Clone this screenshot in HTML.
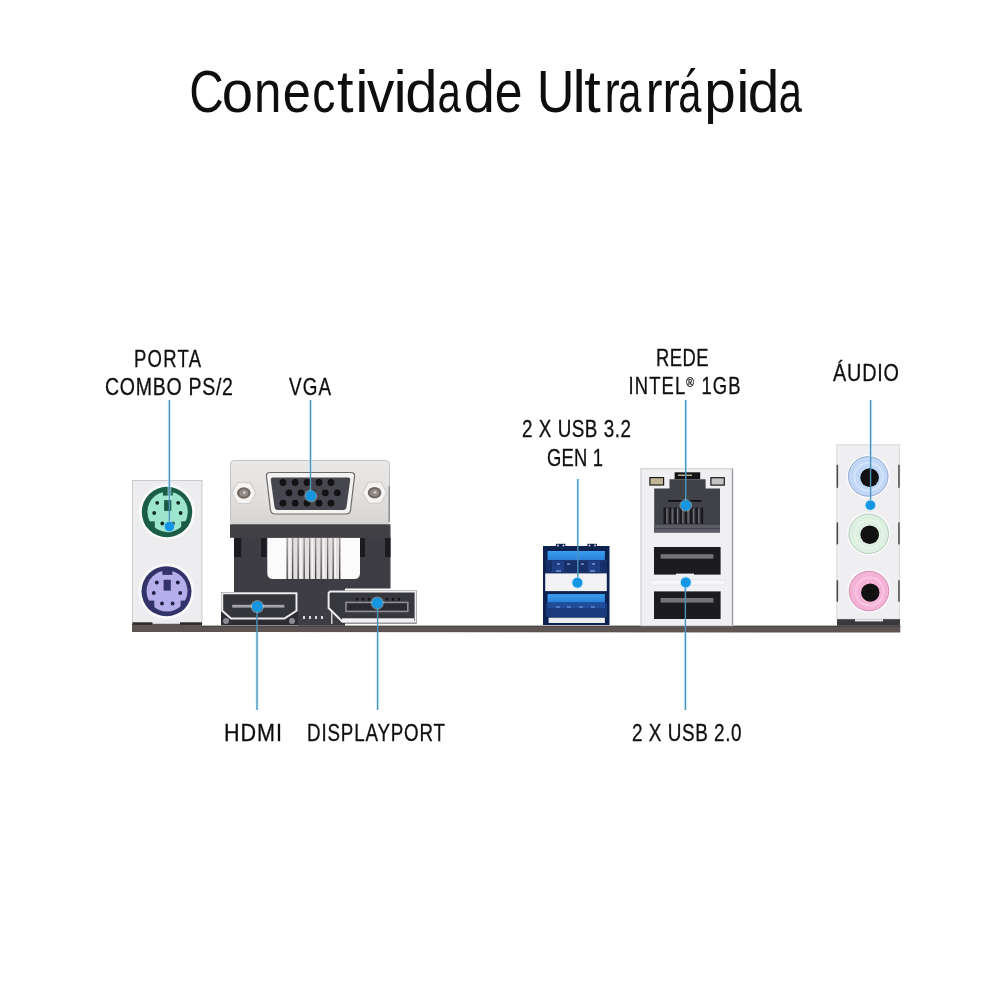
<!DOCTYPE html>
<html><head><meta charset="utf-8">
<style>
html,body{margin:0;padding:0;background:#fff;}
body{width:1000px;height:1000px;overflow:hidden;position:relative;}
svg{position:absolute;left:0;top:0;filter:blur(0.35px);}
text{font-family:"Liberation Sans",sans-serif;fill:#0e0e0e;}
</style></head><body>
<svg width="1000" height="1000" viewBox="0 0 1000 1000">
<defs>
  <linearGradient id="silver" x1="0" y1="0" x2="0" y2="1">
    <stop offset="0" stop-color="#ebe9e7"/><stop offset="0.6" stop-color="#e1dfdd"/><stop offset="1" stop-color="#d6d4d2"/>
  </linearGradient>
  <linearGradient id="usbtongue" x1="0" y1="0" x2="0" y2="1">
    <stop offset="0" stop-color="#3aa0f0"/><stop offset="1" stop-color="#2a7fd8"/>
  </linearGradient>
  <linearGradient id="finfade" x1="0" y1="0" x2="0" y2="1">
    <stop offset="0" stop-color="#9a9696"/><stop offset="1" stop-color="#3a3a3e"/>
  </linearGradient>
  <clipPath id="cpG"><circle cx="167" cy="512" r="25.2"/></clipPath>
  <clipPath id="cpP"><circle cx="166.5" cy="591.2" r="25"/></clipPath>
</defs>
<rect width="1000" height="1000" fill="#fff"/>
<!-- TITLE -->
<g font-size="59.5"><text transform="translate(206.85 112) scale(0.804 1)" x="-21.86" y="0">C</text><text transform="translate(237.30 112) scale(0.947 1)" x="-16.55" y="0">o</text><text transform="translate(267.65 112) scale(0.827 1)" x="-16.59" y="0">n</text><text transform="translate(296.65 112) scale(0.849 1)" x="-16.49" y="0">e</text><text transform="translate(324.20 112) scale(0.780 1)" x="-15.35" y="0">c</text><text transform="translate(345.55 112) scale(1.000 1)" x="-8.50" y="0">t</text><text transform="translate(361.75 112) scale(1.000 1)" x="-6.59" y="0">i</text><text transform="translate(380.70 112) scale(0.920 1)" x="-14.88" y="0">v</text><text transform="translate(400.05 112) scale(1.000 1)" x="-6.59" y="0">i</text><text transform="translate(420.75 112) scale(0.975 1)" x="-15.88" y="0">d</text><text transform="translate(450.00 112) scale(0.707 1)" x="-17.81" y="0">a</text><text transform="translate(478.80 112) scale(0.942 1)" x="-15.88" y="0">d</text><text transform="translate(508.50 112) scale(0.838 1)" x="-16.49" y="0">e</text><text transform="translate(555.65 112) scale(0.879 1)" x="-21.48" y="0">U</text><text transform="translate(579.05 112) scale(1.000 1)" x="-6.62" y="0">l</text><text transform="translate(592.80 112) scale(1.000 1)" x="-8.50" y="0">t</text><text transform="translate(613.30 112) scale(0.766 1)" x="-11.39" y="0">r</text><text transform="translate(630.70 112) scale(0.700 1)" x="-17.81" y="0">a</text><text transform="translate(655.30 112) scale(0.847 1)" x="-11.39" y="0">r</text><text transform="translate(672.40 112) scale(0.887 1)" x="-11.39" y="0">r</text><text transform="translate(690.70 112) scale(0.700 1)" x="-17.81" y="0">á</text><text transform="translate(720.75 112) scale(0.953 1)" x="-17.21" y="0">p</text><text transform="translate(742.85 112) scale(1.000 1)" x="-6.59" y="0">i</text><text transform="translate(762.75 112) scale(0.953 1)" x="-15.88" y="0">d</text><text transform="translate(791.20 112) scale(0.700 1)" x="-17.81" y="0">a</text></g>
<!-- LABELS -->
<g font-size="23" transform="translate(0 0.6)" stroke="#141414" stroke-width="0.3">
<text transform="translate(134.0 366.0) scale(0.803 1)" x="0" y="0" textLength="83.40" lengthAdjust="spacing">PORTA</text>
<text transform="translate(105.0 394.5) scale(0.849 1)" x="0" y="0" textLength="150.68" lengthAdjust="spacing">COMBO PS/2</text>
<text transform="translate(289.0 394.5) scale(0.821 1)" x="0" y="0" textLength="51.13" lengthAdjust="spacing">VGA</text>
<text transform="translate(522.0 436.5) scale(0.818 1)" x="0" y="0" textLength="133.23" lengthAdjust="spacing">2 X USB 3.2</text>
<text transform="translate(547.0 465.0) scale(0.800 1)" x="0" y="0" textLength="70.00" lengthAdjust="spacing">GEN 1</text>
<text transform="translate(656.0 365.0) scale(0.800 1)" x="0" y="0" textLength="65.62" lengthAdjust="spacing">REDE</text>
<text transform="translate(628.5 393.5) scale(0.800 1)" x="0" y="0" textLength="140.00" lengthAdjust="spacing">INTEL<tspan font-size="13" dy="-7">®</tspan><tspan dy="7"> 1GB</tspan></text>
<text transform="translate(833.0 380.0) scale(0.861 1)" x="0" y="0" textLength="76.67" lengthAdjust="spacing">ÁUDIO</text>
<text transform="translate(224.0 740.0) scale(0.938 1)" x="0" y="0" textLength="61.86" lengthAdjust="spacing">HDMI</text>
<text transform="translate(307.0 740.0) scale(0.814 1)" x="0" y="0" textLength="169.52" lengthAdjust="spacing">DISPLAYPORT</text>
<text transform="translate(632.0 740.0) scale(0.822 1)" x="0" y="0" textLength="133.23" lengthAdjust="spacing">2 X USB 2.0</text>
</g>

<!-- PCB -->
<path d="M132 623.5 L202 623.5 L202 625.8 L900.3 625.8 L900.3 632.5 L132 632 Z" fill="#5d5453"/>
<rect x="202" y="625.8" width="698.3" height="1" fill="#4a4342"/>

<!-- PS/2 panel -->
<rect x="132.5" y="480.5" width="69.5" height="143" fill="#ededf0" stroke="#c9c9ce" stroke-width="1"/>
<rect x="132.5" y="622.3" width="20" height="2.5" fill="#2a2828"/>
<rect x="180" y="622.3" width="22" height="2.5" fill="#2a2828"/>
<!-- green -->
<circle cx="167" cy="512" r="28" fill="#f7faf9"/>
<circle cx="167" cy="512" r="25.2" fill="#1b5c46"/>
<circle cx="167.6" cy="511.8" r="20.6" fill="#9de6cd"/>
<g clip-path="url(#cpG)" fill="#1b5c46">
<rect x="140" y="521.4" width="14.8" height="20"/><rect x="181.2" y="521.4" width="14" height="20"/>
</g>
<circle cx="167.6" cy="511.8" r="20.6" fill="none" stroke="#1b5c46" stroke-width="0.8"/>
<rect x="162.9" y="490" width="9.9" height="5.6" fill="#1b5c46"/>
<rect x="164.1" y="500.1" width="7.2" height="10.8" fill="#1b5c46"/>
<g fill="#0f2a22"><circle cx="157.2" cy="502.8" r="1.9"/><circle cx="178.2" cy="502.8" r="1.9"/><circle cx="154.2" cy="513" r="1.9"/><circle cx="180.6" cy="513" r="1.9"/><circle cx="162.3" cy="523.5" r="1.9"/><circle cx="173.1" cy="523.5" r="1.9"/></g>
<!-- purple -->
<circle cx="166.5" cy="591.2" r="28" fill="#f8f8fb"/>
<circle cx="166.5" cy="591.2" r="25" fill="#33336a"/>
<circle cx="167" cy="591" r="20.5" fill="#b6aeea"/>
<g clip-path="url(#cpP)" fill="#33336a">
<rect x="139" y="600.6" width="15.3" height="20"/><rect x="180.6" y="600.6" width="14" height="20"/>
</g>
<rect x="162.4" y="569.3" width="9.9" height="5.6" fill="#33336a"/>
<rect x="163.6" y="579.8" width="7.2" height="10.8" fill="#33336a"/>
<g fill="#1e1e44"><circle cx="156.8" cy="582.5" r="1.9"/><circle cx="177.8" cy="582.5" r="1.9"/><circle cx="153.8" cy="593" r="1.9"/><circle cx="180.2" cy="593" r="1.9"/><circle cx="162" cy="603.5" r="1.9"/><circle cx="172.6" cy="603.5" r="1.9"/></g>

<!-- VGA body -->
<path d="M234 537 L390.5 537 L390.5 588.5 L345 588.5 L345 625.8 L298 625.8 L298 592 L234 592 Z" fill="#3d3d43"/>
<g fill="#1c1c20"><rect x="234" y="538" width="7.2" height="19"/><rect x="261" y="538" width="5.5" height="19"/><rect x="360" y="538" width="5" height="19"/><rect x="385" y="538" width="5.5" height="19"/></g>
<path d="M267.3 537.5 L360 537.5 L360 573 Q360 579 354 579 L273.3 579 Q267.3 579 267.3 573 Z" fill="#fbfbfb"/>
<rect x="287" y="537.5" width="54" height="41.5" fill="#e2dede"/>
<g fill="url(#finfade)">
<rect x="286.5" y="538" width="1.3" height="41"/><rect x="292" y="538" width="1.3" height="41"/><rect x="297.5" y="538" width="1.3" height="41"/><rect x="303.5" y="538" width="1.3" height="41"/><rect x="309" y="538" width="1.3" height="41"/><rect x="315" y="538" width="1.3" height="41"/><rect x="320.5" y="538" width="1.3" height="41"/><rect x="327" y="538" width="1.3" height="41"/><rect x="332.5" y="538" width="1.3" height="41"/><rect x="339" y="538" width="1.3" height="41"/>
</g>
<g fill="#f6f4f4"><rect x="289" y="538" width="1.5" height="40"/><rect x="300" y="538" width="1.5" height="40"/><rect x="311.5" y="538" width="1.5" height="40"/><rect x="323" y="538" width="1.5" height="40"/><rect x="334.5" y="538" width="1.5" height="40"/></g>
<!-- VGA plate -->
<rect x="230.5" y="460.5" width="159" height="64" rx="4" fill="url(#silver)" stroke="#c4c2c0" stroke-width="1"/>
<rect x="230" y="524.3" width="160.5" height="13.5" fill="#404045"/>
<path d="M270 472.5 L351 472.5 Q355 472.5 354.5 476.5 L350.5 510 Q350 514 346 514 L275 514 Q271 514 270.5 510 L266.5 476.5 Q266 472.5 270 472.5 Z" fill="#f4f3f2" stroke="#6c6a68" stroke-width="1.2"/>
<path d="M273 477.5 L348 477.5 Q350.5 477.5 350.2 480 L346.5 507 Q346 510 343 510 L278 510 Q275 510 274.5 507 L270.8 480 Q270.5 477.5 273 477.5 Z" fill="#46464e"/>
<g fill="#121214"><circle cx="283" cy="482.5" r="3.4"/><circle cx="295.2" cy="482.5" r="3.4"/><circle cx="307" cy="482.5" r="3.4"/><circle cx="319" cy="482.5" r="3.4"/><circle cx="331" cy="482.5" r="3.4"/>
<circle cx="289" cy="492.8" r="3.4"/><circle cx="301" cy="492.8" r="3.4"/><circle cx="313" cy="492.8" r="3.4"/><circle cx="325.3" cy="492.8" r="3.4"/><circle cx="337.3" cy="492.8" r="3.4"/>
<circle cx="283" cy="503.2" r="3.4"/><circle cx="295.2" cy="503.2" r="3.4"/><circle cx="307" cy="503.2" r="3.4"/><circle cx="319" cy="503.2" r="3.4"/><circle cx="331" cy="503.2" r="3.4"/></g>
<polygon points="256,493 249.9,503.6 237.7,503.6 231.6,493 237.7,482.4 249.9,482.4" fill="#efeeed" stroke="#cdcbc9" stroke-width="1"/>
<circle cx="243.8" cy="493" r="9.5" fill="#f6f5f4"/>
<ellipse cx="243.8" cy="493" rx="6.8" ry="5.8" fill="#6e6762"/>
<ellipse cx="243.8" cy="493" rx="4.6" ry="3.8" fill="#928b86"/>
<circle cx="244.3" cy="492.6" r="1.3" fill="#d8d4d0"/>
<polygon points="386.8,492.7 380.7,503.3 368.5,503.3 362.4,492.7 368.5,482.1 380.7,482.1" fill="#efeeed" stroke="#cdcbc9" stroke-width="1"/>
<circle cx="374.6" cy="492.7" r="9.5" fill="#f6f5f4"/>
<ellipse cx="374.6" cy="492.7" rx="6.8" ry="5.8" fill="#6e6762"/>
<ellipse cx="374.6" cy="492.7" rx="4.6" ry="3.8" fill="#928b86"/>
<circle cx="375.1" cy="492.3" r="1.3" fill="#d8d4d0"/>
<rect x="388.6" y="486" width="1" height="36" fill="#707072"/>
<!-- HDMI -->
<rect x="221" y="592" width="77" height="33.3" fill="#2c2c32"/>
<path d="M222.2 593.2 L296.5 593.2 L296.5 610.8 L284.4 618.6 L231 618.6 L222.2 610.8 Z" fill="#35353c" stroke="#ececee" stroke-width="2"/>
<rect x="232.2" y="604.8" width="52.2" height="2.8" fill="#a4a4aa"/>
<circle cx="226" cy="621" r="3" fill="#8a8a90"/><circle cx="292" cy="621" r="3" fill="#8a8a90"/>
<g fill="#d8d8dc"><rect x="303" y="616" width="2" height="3"/><rect x="309" y="616" width="2" height="3"/><rect x="315" y="616" width="2" height="3"/><rect x="321" y="616" width="2" height="3"/></g>

<!-- DisplayPort -->
<path d="M329.5 590.4 L416.8 590.4 L416.8 623.4 L341.8 623.4 L327.4 608.4 L327.4 592.5 Q327.4 590.4 329.5 590.4 Z" fill="#2e2e34"/>
<path d="M330 591.6 L415.6 591.6 L415.6 621.8 L342.4 621.8 L328.6 608 L328.6 593 Z" fill="#37373e" stroke="#ededef" stroke-width="2"/>
<rect x="342" y="618.3" width="72" height="3.8" fill="#f2f2f4"/>
<rect x="331" y="612" width="1.5" height="12" fill="#cfcfd2"/>
<rect x="346" y="602.4" width="61.8" height="9" fill="#2a2a30" stroke="#8c8c94" stroke-width="1.6"/>
<g fill="#111"><rect x="356" y="598" width="2" height="2.5"/><rect x="362" y="598" width="2" height="2.5"/><rect x="368" y="598" width="2" height="2.5"/><rect x="386" y="598" width="2" height="2.5"/><rect x="392" y="598" width="2" height="2.5"/><rect x="398" y="598" width="2" height="2.5"/></g>
<!-- USB 3.2 -->
<rect x="543" y="546" width="66.5" height="79" fill="#0c2250"/>
<rect x="555.9" y="543.8" width="9.5" height="3" fill="#0c2250"/><rect x="587.4" y="543.8" width="9.5" height="3" fill="#0c2250"/>
<g fill="#e8ecf4"><circle cx="558" cy="545.5" r="0.9"/><circle cx="563.5" cy="545.5" r="0.9"/><circle cx="589.5" cy="545.5" r="0.9"/><circle cx="595" cy="545.5" r="0.9"/></g>
<rect x="546" y="560" width="61" height="13.4" fill="#17306a"/><rect x="552" y="561" width="12" height="11" fill="#22448e" opacity="0.8"/><rect x="588" y="561" width="12" height="11" fill="#22448e" opacity="0.8"/>
<rect x="547.5" y="551" width="57.4" height="9.1" fill="url(#usbtongue)"/>
<g fill="#6f8fc8" opacity="0.8"><rect x="557" y="563" width="3" height="2"/><rect x="567" y="563" width="3" height="2"/><rect x="581" y="563" width="3" height="2"/><rect x="592" y="563" width="3" height="2"/><rect x="556" y="570" width="5" height="2"/><rect x="590" y="570" width="5" height="2"/></g>
<rect x="545.2" y="573.4" width="61.6" height="17.7" fill="#f3f3f5"/>
<rect x="546" y="602.5" width="61" height="14.5" fill="#1a3a7c"/><rect x="548" y="603" width="57" height="5" fill="#2456a8" opacity="0.7"/>
<rect x="547.5" y="594.1" width="57.4" height="8.4" fill="url(#usbtongue)"/>
<g fill="#5f82c2" opacity="0.8"><rect x="556" y="606" width="4" height="2"/><rect x="567" y="606" width="4" height="2"/><rect x="579" y="606" width="4" height="2"/><rect x="591" y="606" width="4" height="2"/></g>
<rect x="548.6" y="617.7" width="56.3" height="5.3" fill="#eceef2"/>

<!-- RJ45 + USB2 panel -->
<rect x="641" y="468.8" width="91.8" height="156.8" fill="#f0eff2" stroke="#cfcfd4" stroke-width="1.2"/>
<rect x="731.8" y="469" width="1.2" height="156" fill="#9a9aa0"/>
<rect x="674.6" y="472.3" width="25.6" height="7" fill="#141416"/>
<rect x="678" y="474.5" width="14" height="1.5" fill="#b8ac90"/>
<path d="M669.5 479.2 L705.6 479.2 L705.6 488.5 L720 488.5 L720 532.5 L654.2 532.5 L654.2 488.5 L669.5 488.5 Z" fill="#414148"/>
<rect x="654.2" y="524.8" width="65.8" height="7.7" fill="#5c5c64"/>
<rect x="654.2" y="528" width="65.8" height="1" fill="#46464c"/>
<rect x="668" y="500" width="33.6" height="1.8" fill="#111114"/>
<g fill="#1a1a1e"><rect x="663.5" y="507.5" width="2.6" height="16.5"/><rect x="668.8" y="507.5" width="2.6" height="16.5"/><rect x="674.1" y="507.5" width="2.6" height="16.5"/><rect x="679.4" y="507.5" width="2.6" height="16.5"/><rect x="684.7" y="507.5" width="2.6" height="16.5"/><rect x="690" y="507.5" width="2.6" height="16.5"/><rect x="695.3" y="507.5" width="2.6" height="16.5"/><rect x="700.6" y="507.5" width="2.6" height="16.5"/></g><g fill="#77777e"><rect x="666.4" y="509" width="1" height="14"/><rect x="671.7" y="509" width="1" height="14"/><rect x="677.0" y="509" width="1" height="14"/><rect x="682.3" y="509" width="1" height="14"/><rect x="687.6" y="509" width="1" height="14"/><rect x="692.9" y="509" width="1" height="14"/><rect x="698.2" y="509" width="1" height="14"/></g>
<rect x="649.9" y="477.6" width="13.7" height="7.4" fill="#c2b699" stroke="#1a1a1a" stroke-width="1.2"/>
<rect x="710.9" y="477.7" width="13.4" height="7.4" fill="#c6c4c2" stroke="#1a1a1a" stroke-width="1.2"/>
<rect x="654" y="547" width="66.6" height="27.6" fill="#1c1c1e"/>
<rect x="660.6" y="554.2" width="52.8" height="4.4" fill="#74747a"/>
<rect x="676" y="573.6" width="18" height="1.6" fill="#f4f4f4"/>
<rect x="654" y="591.4" width="66.6" height="27.6" fill="#1c1c1e"/>
<rect x="660.6" y="598" width="52.8" height="4.6" fill="#74747a"/>
<rect x="650" y="580" width="75" height="5" fill="#f6f6f8" stroke="#e0e0e4" stroke-width="0.6"/>

<!-- AUDIO -->
<rect x="836.8" y="444.8" width="62.8" height="174.4" fill="#efeff2" stroke="#d8d8dc" stroke-width="1"/>
<g fill="#4a4a4c"><rect x="836.6" y="464.8" width="1.5" height="23"/><rect x="898.2" y="464.8" width="1.5" height="23"/><rect x="836.6" y="522.4" width="1.5" height="22"/><rect x="898.2" y="522.4" width="1.5" height="22"/><rect x="836.6" y="580.2" width="1.5" height="21.5"/><rect x="898.2" y="580.2" width="1.5" height="21.5"/></g>
<rect x="837" y="619.2" width="63" height="6.6" fill="#3a3a3c"/>
<rect x="855" y="619.2" width="28" height="2.2" fill="#efeff2"/>
<circle cx="868.2" cy="476.4" r="21.8" fill="#f9f9fb"/>
<circle cx="868.2" cy="476.4" r="19.8" fill="#c0d8f6" stroke="#98abcc" stroke-width="1"/>
<circle cx="868.6" cy="476.8" r="14" fill="none" stroke="#d2e4fa" stroke-width="2"/>
<circle cx="869.6" cy="477.6" r="9.3" fill="#111"/>
<circle cx="868.7" cy="533.8" r="21.8" fill="#f9f9fb"/>
<circle cx="868.7" cy="533.8" r="19.8" fill="#dcefe0" stroke="#b8ceba" stroke-width="1"/>
<circle cx="869.1" cy="534.2" r="14" fill="none" stroke="#e6f4e8" stroke-width="2"/>
<circle cx="869.7" cy="534.7" r="9.3" fill="#111"/>
<circle cx="869" cy="591" r="21.8" fill="#f9f9fb"/>
<circle cx="869" cy="591" r="19.8" fill="#f4b3d6" stroke="#d690b6" stroke-width="1"/>
<circle cx="869.5" cy="591.6" r="14" fill="none" stroke="#f8c6e2" stroke-width="2"/>
<circle cx="870.3" cy="592.6" r="9.2" fill="#111"/>

<!-- BLUE CALLOUTS -->
<g fill="#d0f4ff" opacity="0.55"><rect x="167.50" y="400" width="3.8" height="100"/><rect x="308.60" y="400" width="3.8" height="72"/><rect x="575.90" y="479" width="3.8" height="67"/><rect x="683.80" y="400" width="3.8" height="72"/><rect x="868.70" y="400" width="3.8" height="57"/><rect x="255.10" y="632.5" width="3.8" height="77.5"/><rect x="375.70" y="632.5" width="3.8" height="77.5"/><rect x="683.50" y="632.5" width="3.8" height="77.5"/><rect x="683.50" y="585" width="3.8" height="6"/></g>
<g fill="#4a93bf"><rect x="168.70" y="400" width="1.4" height="126"/><rect x="309.80" y="400" width="1.4" height="96"/><rect x="577.10" y="479" width="1.4" height="104"/><rect x="685.00" y="400" width="1.4" height="105"/><rect x="869.90" y="400" width="1.4" height="105"/><rect x="256.30" y="606" width="1.4" height="104"/><rect x="376.90" y="603" width="1.4" height="107"/><rect x="684.70" y="583" width="1.4" height="127"/></g>
<g fill="#a8e4ff" opacity="0.45"><circle cx="169.4" cy="526.5" r="6.1"/><circle cx="310.9" cy="495.9" r="6.3999999999999995"/><circle cx="577.4" cy="582.8" r="6.3"/><circle cx="685.8" cy="505.4" r="6.3"/><circle cx="685.8" cy="582.4" r="6.3"/><circle cx="870.4" cy="505.2" r="6.1"/><circle cx="257.3" cy="606.5" r="6.6"/><circle cx="377.3" cy="603" r="6.6"/></g>
<g fill="#1596e2">
<circle cx="169.4" cy="526.5" r="4.8"/>
<circle cx="310.9" cy="495.9" r="5.1"/>
<circle cx="577.4" cy="582.8" r="5"/>
<circle cx="685.8" cy="505.4" r="5"/>
<circle cx="685.8" cy="582.4" r="5"/>
<circle cx="870.4" cy="505.2" r="4.8"/>
<circle cx="257.3" cy="606.5" r="5.3"/>
<circle cx="377.3" cy="603" r="5.3"/>
</g>
</svg>
</body></html>
